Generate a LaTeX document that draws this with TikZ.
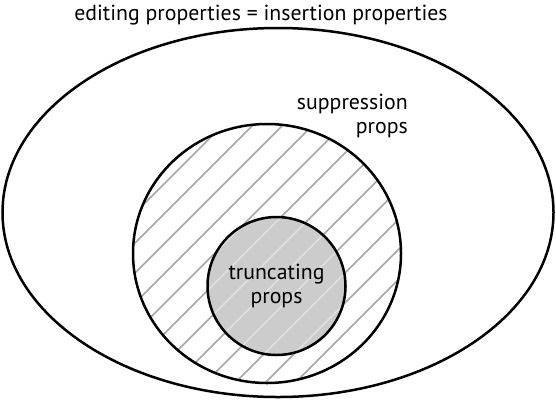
\documentclass[tikz,border=0pt]{standalone}
\usepackage{fontspec}
\setmainfont{PT Sans}
\begin{document}
\begin{tikzpicture}[x=1pt,y=-1pt,
  outline/.style={line width=2.5pt, draw=black},
  hatch/.style={line width=1.7pt, draw=black!35},
  hatchlight/.style={line width=1.7pt, draw=white!88!black},
  lbl/.style={font=\fontsize{21.8}{24}\selectfont, inner sep=0pt}]
\useasboundingbox (0,0) rectangle (556,400);
% outer ellipse
\draw[outline] (278,212.5) ellipse [x radius=275.5, y radius=184.5];
% middle circle hatching
\begin{scope}
  \clip (267,253.5) ellipse [x radius=134, y radius=129.5];
  \foreach \k in {-12,...,12} {
    \draw[hatch] (408+\k*30-260-200,260+200) -- (408+\k*30-260+200,260-200);
  }
\end{scope}
% inner circle
\fill[black!20] (276.5,286) circle [radius=69];
\begin{scope}
  \clip (276.5,286) circle [radius=69];
  \foreach \k in {-12,...,12} {
    \draw[hatchlight] (408+\k*30-260-200,260+200) -- (408+\k*30-260+200,260-200);
  }
\end{scope}
\draw[outline] (267,253.5) ellipse [x radius=134, y radius=129.5];
\draw[outline] (276.5,286) circle [radius=69];
\node[lbl] (title) at (261,15) {editing properties = insertion properties};
\node[lbl, align=right, anchor=north east] (supp) at (408,94) {suppression\\props};
\node[lbl, align=center] (trunc) at (276.5,286) {truncating\\props};
\end{tikzpicture}
\end{document}
